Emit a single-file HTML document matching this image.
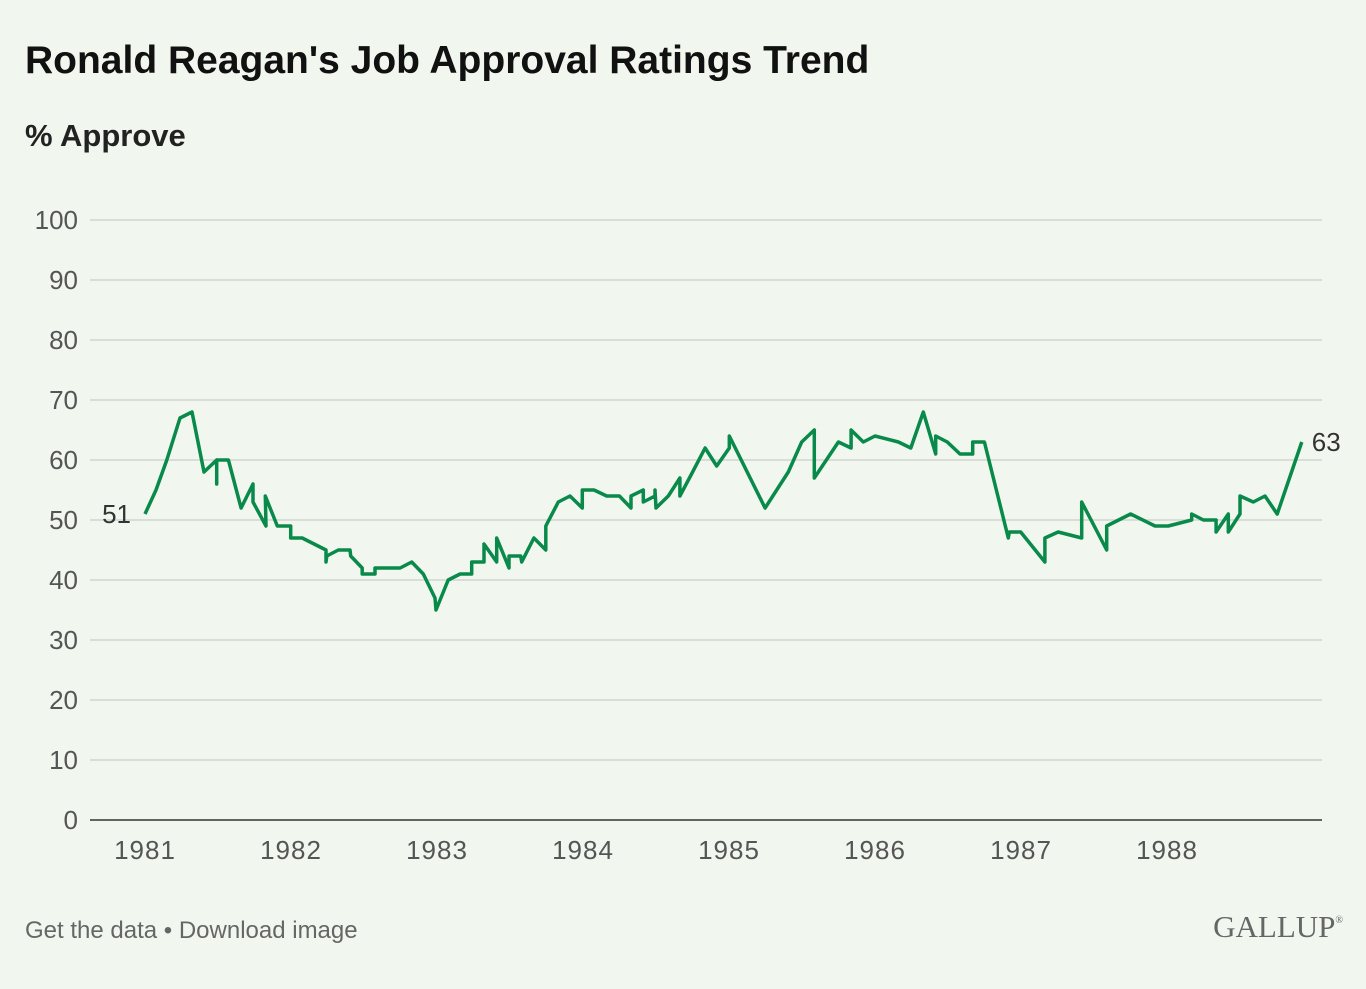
<!DOCTYPE html>
<html><head><meta charset="utf-8">
<style>
body{margin:0;background:#f1f7ef;font-family:"Liberation Sans",sans-serif;}
svg{display:block}
</style></head>
<body>
<svg id="chart" width="1366" height="989" xmlns="http://www.w3.org/2000/svg">
<rect width="1366" height="989" fill="#f1f7ef"/>
<text x="25" y="73" font-size="39" font-weight="bold" fill="#111">Ronald Reagan's Job Approval Ratings Trend</text>
<text x="25" y="146" font-size="31" font-weight="bold" fill="#222">% Approve</text>
<g id="grid"></g>
<g id="xlabels"></g>
<path id="line" fill="none" stroke="#0a8a4a" stroke-width="3.5" stroke-linejoin="round"/>
<g id="endlabels"></g>
<text x="25" y="938" font-size="24" fill="#666">Get the data • Download image</text>
<text x="1343" y="937" font-size="31" text-anchor="end" fill="#666" font-family="Liberation Serif,serif">GALLUP<tspan font-size="10" dy="-14">®</tspan></text>
</svg>
<script>
const dates=[1981.0,1981.075,1981.149,1981.240,1981.322,1981.404,1981.491,1981.491,1981.491,1981.571,1981.658,1981.740,1981.740,1981.829,1981.824,1981.906,1981.998,1981.998,1982.077,1982.240,1982.240,1982.245,1982.324,1982.404,1982.409,1982.488,1982.488,1982.575,1982.575,1982.747,1982.827,1982.906,1982.986,1982.993,1983.077,1983.158,1983.238,1983.238,1983.322,1983.322,1983.409,1983.409,1983.493,1983.493,1983.573,1983.580,1983.664,1983.745,1983.745,1983.831,1983.911,1983.995,1983.995,1984.075,1984.162,1984.249,1984.329,1984.329,1984.413,1984.413,1984.493,1984.493,1984.500,1984.584,1984.664,1984.664,1984.751,1984.836,1984.916,1985.002,1985.002,1985.247,1985.406,1985.498,1985.584,1985.584,1985.749,1985.836,1985.836,1985.920,1986.0,1986.160,1986.245,1986.331,1986.416,1986.416,1986.495,1986.582,1986.669,1986.669,1986.749,1986.913,1986.920,1986.998,1987.164,1987.164,1987.255,1987.416,1987.416,1987.587,1987.587,1987.751,1987.918,1988.009,1988.169,1988.169,1988.249,1988.336,1988.336,1988.420,1988.420,1988.500,1988.500,1988.591,1988.671,1988.755,1988.923];
const values=[51,55,60,67,68,58,60,56,60,60,52,56,53,49,54,49,49,47,47,45,43,44,45,45,44,42,41,41,42,42,43,41,37,35,40,41,41,43,43,46,43,47,42,44,44,43,47,45,49,53,54,52,55,55,54,54,52,54,55,53,54,55,52,54,57,54,58,62,59,62,64,52,58,63,65,57,63,62,65,63,64,63,62,68,61,64,63,61,61,63,63,47,48,48,43,47,48,47,53,45,49,51,49,49,50,51,50,50,48,51,48,51,54,53,54,51,63];
const yTicks=[0,10,20,30,40,50,60,70,80,90,100];
const xTicks=[1981,1982,1983,1984,1985,1986,1987,1988];
const NS="http://www.w3.org/2000/svg";
const xS=t=>145+(t-1981)*146;
const yS=v=>820-v*6;
const grid=document.getElementById('grid');
yTicks.forEach(v=>{
  const l=document.createElementNS(NS,'line');
  l.setAttribute('x1',90);l.setAttribute('x2',1322);
  l.setAttribute('y1',yS(v));l.setAttribute('y2',yS(v));
  l.setAttribute('stroke',v===0?'#333':'#d9ddd7');l.setAttribute('stroke-width',v===0?1.5:2);
  
  
  grid.appendChild(l);
  const t=document.createElementNS(NS,'text');
  t.setAttribute('x',78);t.setAttribute('y',yS(v)+9);t.setAttribute('text-anchor','end');
  t.setAttribute('font-size','26');t.setAttribute('fill','#555');
  t.textContent=v;
  
  
  grid.appendChild(t);
});
const xl=document.getElementById('xlabels');
xTicks.forEach(y=>{
  const t=document.createElementNS(NS,'text');
  t.setAttribute('x',xS(y));t.setAttribute('y',859);t.setAttribute('text-anchor','middle');
  t.setAttribute('font-size','26');t.setAttribute('letter-spacing','1');t.setAttribute('fill','#555');
  t.textContent=y;
  
  
  xl.appendChild(t);
});
let d='';
dates.forEach((t,i)=>{d+=(i?'L':'M')+xS(t).toFixed(1)+','+yS(values[i]).toFixed(1);});
document.getElementById('line').setAttribute('d',d);
const el=document.getElementById('endlabels');
const n=values.length-1;
[[0,xS(dates[0])-14,'end'],[n,xS(dates[n])+10,'start']].forEach(([i,x,a])=>{
  const t=document.createElementNS(NS,'text');
  t.setAttribute('x',x);t.setAttribute('y',yS(values[i])+9);t.setAttribute('text-anchor',a);
  t.setAttribute('font-size','26');t.setAttribute('fill','#333');
  t.textContent=values[i];
  
  
  el.appendChild(t);
});
</script>
</body></html>
